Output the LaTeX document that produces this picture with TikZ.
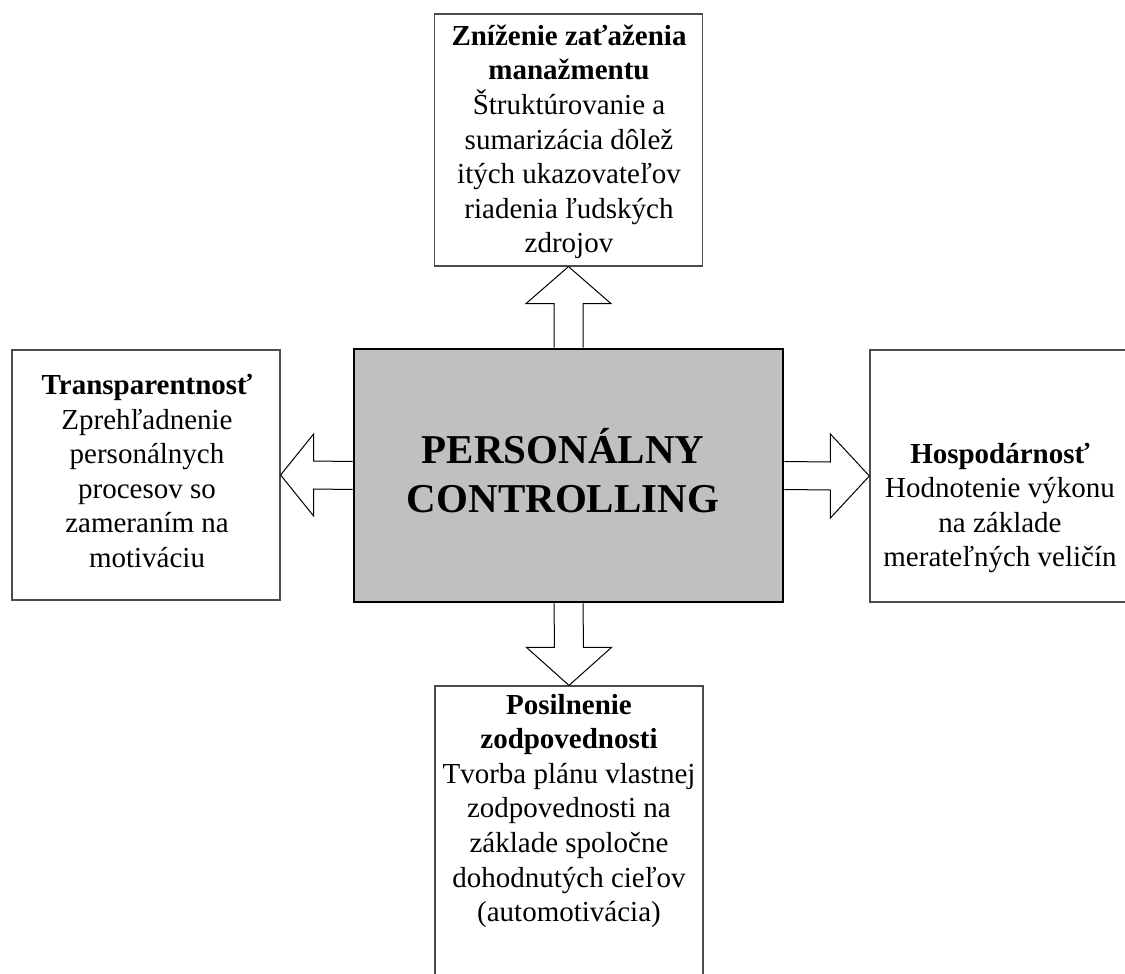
\documentclass[tikz,border=0pt]{standalone}
\usepackage{fontspec}
\setmainfont{Liberation Serif}
\usepackage{tikz}
\usetikzlibrary{calc}
\definecolor{coregray}{HTML}{C0C0C0}

\begin{document}
\begin{tikzpicture}[%
    x=0.5pt, y=-0.5pt,
    frame/.style={
      draw=black!70,
      line width=0.6pt,
      fill=white,
      inner sep=0pt,
      minimum width=134pt
    },
    core/.style={
      draw=black,
      line width=1.4pt,
      fill=coregray,
      inner sep=0pt,
      minimum width=214.5pt,
      minimum height=126.5pt
    },
    blurb/.style={align=center, inner sep=0pt, font=\fontsize{14.5}{17.3}\selectfont},
    blockarrow/.style={draw=black, line width=0.5pt, fill=white}]
    \path[use as bounding box, clip] (0,0) rectangle (1125,974);

    \node[core] at (568.5,475.5) (core) {};
    \node[frame, minimum height=126pt] at (568.5,140) (zniz) {};
    \node[frame, minimum height=125pt] at (146,475) (transp) {};
    \node[frame, minimum height=126pt] at (1004,476) (hosp) {};
    \node[frame, minimum height=152pt] at (569,838) (posil) {};

    \node[blurb, font=\fontsize{20.5}{24.5}\selectfont\bfseries] at (563,471) (coretxt) {PERSONÁLNY\\CONTROLLING};
    \node[blurb] at (569,142) (zniztxt) {\textbf{Zníženie zaťaženia}\\\textbf{manažmentu}\\Štruktúrovanie a\\sumarizácia dôlež\\itých ukazovateľov\\riadenia ľudských\\zdrojov};
    \node[blurb] at (147,471) (transptxt) {\textbf{Transparentnosť}\\Zprehľadnenie\\personálnych\\procesov so\\zameraním na\\motiváciu};
    \node[blurb] at (1000,508) (hosptxt) {\textbf{Hospodárnosť}\\Hodnotenie výkonu\\na základe\\merateľných veličín};
    \node[blurb] at (569,811) (posiltxt) {\textbf{Posilnenie}\\\textbf{zodpovednosti}\\Tvorba plánu vlastnej\\zodpovednosti na\\základe spoločne\\dohodnutých cieľov\\(automotivácia)};

    % block arrows out of the core
    \draw[blockarrow] ($(core.north)+(-14.5,0)$) -- ($(zniz.south)+(-14.5,37)$)
        -- ($(zniz.south)+(-42.5,37)$) -- (zniz.south) -- ($(zniz.south)+(42.5,37)$)
        -- ($(zniz.south)+(14.5,37)$) -- ($(core.north)+(14.5,0)$);
    \draw[blockarrow] ($(core.west)+(0,-14)$) -- ($(transp.east)+(33,-14)$)
        -- ($(transp.east)+(33,-41)$) -- (transp.east) -- ($(transp.east)+(33,41)$)
        -- ($(transp.east)+(33,14)$) -- ($(core.west)+(0,14)$);
    \draw[blockarrow] ($(core.east)+(0,-14)$) -- ($(hosp.west)+(-39,-14)$)
        -- ($(hosp.west)+(-39,-42)$) -- (hosp.west) -- ($(hosp.west)+(-39,42)$)
        -- ($(hosp.west)+(-39,14)$) -- ($(core.east)+(0,14)$);
    \draw[blockarrow] ($(core.south)+(-14.5,0)$) -- ($(posil.north)+(-14.5,-38)$)
        -- ($(posil.north)+(-42.5,-38)$) -- (posil.north) -- ($(posil.north)+(42.5,-38)$)
        -- ($(posil.north)+(14.5,-38)$) -- ($(core.south)+(14.5,0)$);
\end{tikzpicture}
\end{document}
